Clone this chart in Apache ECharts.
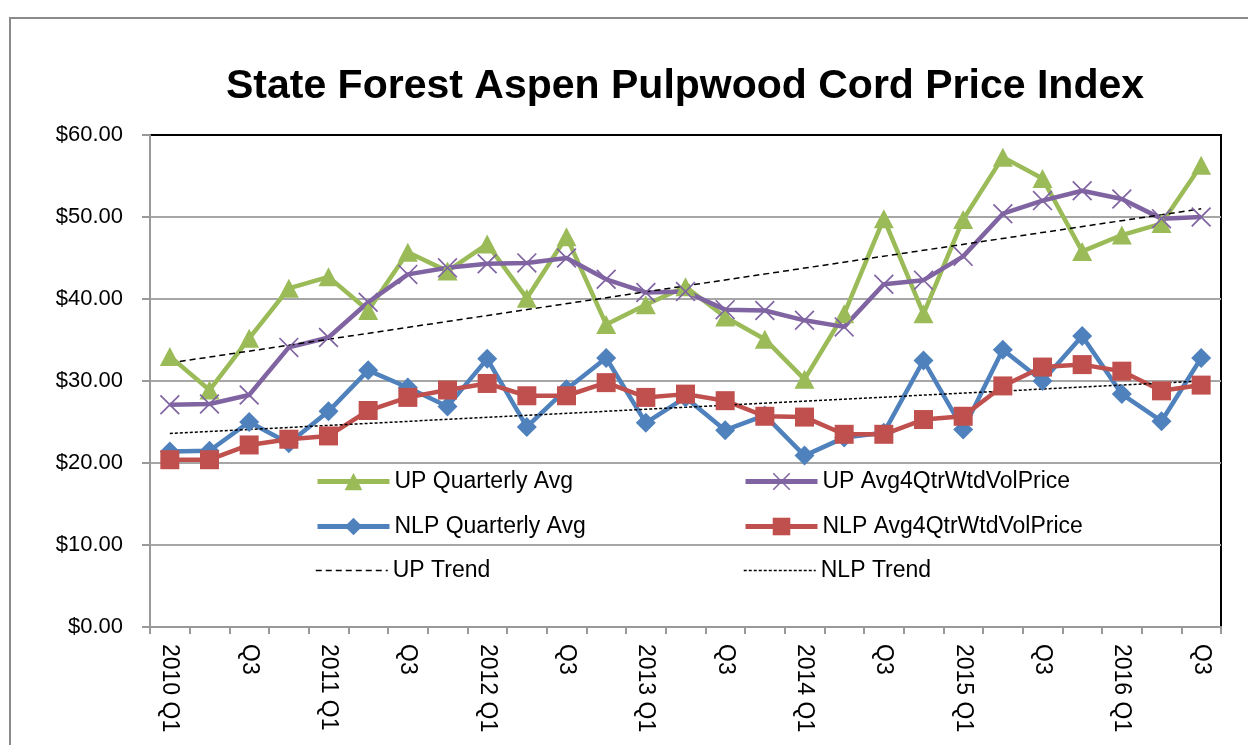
<!DOCTYPE html>
<html><head><meta charset="utf-8">
<script src="https://cdn.jsdelivr.net/npm/echarts@6/dist/echarts.min.js"></script>
<style>html,body{margin:0;padding:0;background:#fff}#c{width:1248px;height:745px}</style>
</head><body><div id="c"></div>
<script>
const categories = ['2010 Q1','Q2','Q3','Q4','2011 Q1','Q2','Q3','Q4','2012 Q1','Q2','Q3','Q4','2013 Q1','Q2','Q3','Q4','2014 Q1','Q2','Q3','Q4','2015 Q1','Q2','Q3','Q4','2016 Q1','Q2','Q3'];
const upQuarterly  = [33.0, 28.9, 35.2, 41.3, 42.7, 38.6, 45.7, 43.4, 46.7, 40.1, 47.6, 36.9, 39.3, 41.5, 37.8, 35.1, 30.2, 38.2, 49.8, 38.2, 49.7, 57.3, 54.7, 45.8, 47.8, 49.2, 56.3];
const upAvg4Qtr    = [27.1, 27.2, 28.3, 34.1, 35.3, 39.6, 43.0, 43.8, 44.3, 44.4, 45.0, 42.4, 40.8, 40.9, 38.7, 38.6, 37.4, 36.6, 41.8, 42.3, 45.2, 50.4, 52.0, 53.2, 52.2, 49.8, 50.0];
const nlpQuarterly = [21.4, 21.5, 25.0, 22.4, 26.3, 31.3, 29.2, 26.9, 32.7, 24.4, 29.0, 32.8, 24.9, 28.0, 24.0, 25.8, 20.9, 23.1, 23.7, 32.5, 24.1, 33.8, 30.0, 35.5, 28.4, 25.1, 32.8];
const nlpAvg4Qtr   = [20.4, 20.4, 22.2, 22.9, 23.3, 26.4, 28.0, 28.9, 29.7, 28.2, 28.2, 29.8, 28.0, 28.4, 27.6, 25.7, 25.6, 23.5, 23.5, 25.3, 25.7, 29.4, 31.7, 32.0, 31.2, 28.8, 29.5];
const upTrendEnds  = [32.2, 51.0];
const nlpTrendEnds = [23.6, 30.0];
const yTicks = [0, 10, 20, 30, 40, 50, 60];

function endsToData(ends) {
  const d = categories.map(() => null);
  d[0] = ends[0];
  d[d.length - 1] = ends[1];
  return d;
}

const FONT = 'Liberation Sans';
const X_SYMBOL = 'path://M0,6 L6,0 L50,44 L94,0 L100,6 L56,50 L100,94 L94,100 L50,56 L6,100 L0,94 L44,50 Z';

const legendItems = [
  { name: 'UP Quarterly Avg', left: 315, cy: 481, trend: false },
  { name: 'UP Avg4QtrWtdVolPrice', left: 743, cy: 481, trend: false },
  { name: 'NLP Quarterly Avg', left: 315, cy: 526, trend: false },
  { name: 'NLP Avg4QtrWtdVolPrice', left: 743, cy: 526, trend: false },
  { name: 'UP Trend', left: 315, cy: 570, trend: true },
  { name: 'NLP Trend', left: 743, cy: 570, trend: true }
];

const chart = echarts.init(document.getElementById('c'), null, { renderer: 'canvas' });
const option = {
  animation: false,
  backgroundColor: '#fff',
  title: {
    text: 'State Forest Aspen Pulpwood Cord Price Index',
    left: 680, top: 61, textAlign: 'center',
    textStyle: { fontFamily: FONT, fontSize: 41, fontWeight: 'bold', color: '#000' }
  },
  graphic: [{
    type: 'rect', silent: true, z: -1,
    shape: { x: 10, y: 18, width: 1400, height: 900 },
    style: { fill: 'none', stroke: '#8a8a8a', lineWidth: 2 }
  }],
  legend: legendItems.map(it => ({
    data: [it.name],
    left: it.left, top: it.cy - 11,
    padding: 0, itemWidth: 72, itemHeight: 22, itemGap: 0,
    selectedMode: false,
    itemStyle: it.trend ? { color: 'transparent', borderWidth: 0, opacity: 0 } : {},
    lineStyle: it.trend ? { width: 1.5 } : { width: 5 },
    textStyle: { fontFamily: FONT, fontSize: 23, color: '#000', lineHeight: 22 }
  })),
  grid: {
    left: 150, right: 27, top: 135, bottom: 118,
    show: true, borderColor: '#000', borderWidth: 2, backgroundColor: 'transparent'
  },
  xAxis: {
    type: 'category', data: categories, boundaryGap: true,
    axisLine: { lineStyle: { color: '#999', width: 2 } },
    axisTick: { show: true, interval: 0, length: 7, lineStyle: { color: '#999', width: 2 } },
    axisLabel: { interval: 1, rotate: -90, margin: 17, fontFamily: FONT, fontSize: 23, color: '#000' },
    splitLine: { show: false }
  },
  yAxis: {
    type: 'value', min: yTicks[0], max: yTicks[yTicks.length - 1], interval: yTicks[1] - yTicks[0],
    axisLine: { show: true, lineStyle: { color: '#999', width: 2 } },
    axisTick: { show: true, length: 8, lineStyle: { color: '#999', width: 2 } },
    axisLabel: { margin: 27, fontFamily: FONT, fontSize: 22, color: '#000', formatter: v => '$' + v.toFixed(2) },
    splitLine: { showMaxLine: false, lineStyle: { color: '#a6a6a6', width: 2 } }
  },
  series: [
    { name: 'UP Quarterly Avg', type: 'line', data: upQuarterly,
      symbol: 'triangle', symbolSize: [20, 19], showAllSymbol: true,
      lineStyle: { color: '#9BBB59', width: 4.5 }, itemStyle: { color: '#9BBB59' } },
    { name: 'UP Avg4QtrWtdVolPrice', type: 'line', data: upAvg4Qtr,
      symbol: X_SYMBOL, symbolSize: 20, showAllSymbol: true,
      lineStyle: { color: '#8064A2', width: 4.5 }, itemStyle: { color: '#8064A2' } },
    { name: 'NLP Quarterly Avg', type: 'line', data: nlpQuarterly,
      symbol: 'diamond', symbolSize: 20, showAllSymbol: true,
      lineStyle: { color: '#4F81BD', width: 4.5 }, itemStyle: { color: '#4F81BD' } },
    { name: 'NLP Avg4QtrWtdVolPrice', type: 'line', data: nlpAvg4Qtr,
      symbol: 'rect', symbolSize: 19, showAllSymbol: true,
      lineStyle: { color: '#C0504D', width: 4.5 }, itemStyle: { color: '#C0504D' } },
    { name: 'UP Trend', type: 'line', data: endsToData(upTrendEnds), connectNulls: true,
      symbol: 'none', lineStyle: { color: '#000', width: 1.5, type: [6, 4] }, itemStyle: { color: '#000' } },
    { name: 'NLP Trend', type: 'line', data: endsToData(nlpTrendEnds), connectNulls: true,
      symbol: 'none', lineStyle: { color: '#000', width: 1.5, type: [3, 2] }, itemStyle: { color: '#000' } }
  ]
};
chart.setOption(option);
</script></body></html>
